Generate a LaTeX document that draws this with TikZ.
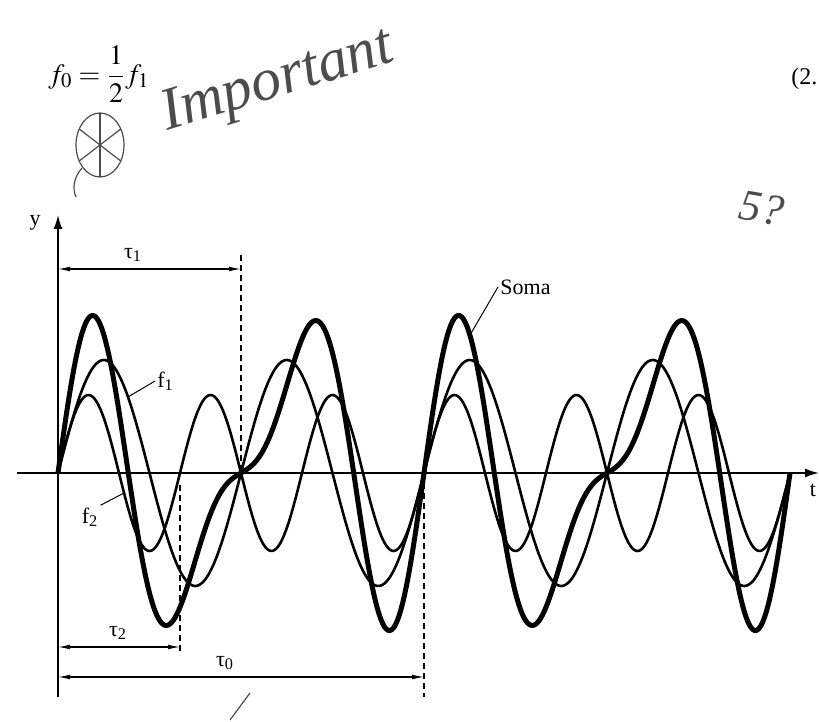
\documentclass[tikz,border=0pt]{standalone}
\usepackage{mathptmx}
\usepackage{fontspec}
\setmainfont{Liberation Serif}
\usetikzlibrary{arrows.meta, positioning}

\begin{document}
\begin{tikzpicture}[
    x=0.5pt, y=0.5pt,
    lbl/.style={font=\fontsize{11}{13}\selectfont, inner sep=1pt},
    axis/.style={line width=0.85pt, -{Latex[length=7pt, width=4.5pt]}},
    dim/.style={line width=0.6pt, {Latex[length=6pt, width=2.4pt]}-{Latex[length=6pt, width=2.4pt]}},
    guide/.style={line width=0.6pt, dash pattern=on 3pt off 2pt},
    wave/.style={line width=1.3pt, line join=round},
    soma/.style={line width=2.5pt, line join=round},
    leader/.style={line width=0.5pt},
    pen/.style={black!70, line width=0.6pt}
]
    \useasboundingbox (-58,-249) rectangle (761,473);

    % formula and handwritten notes
    \node[anchor=west, inner sep=0pt, font=\fontsize{14}{16}\selectfont] (eqn) at (-10,399)
        {$\displaystyle f_0 = \frac{1}{2} f_1$};
    \node[anchor=base west, inner sep=0pt, font=\fontsize{12}{14}\selectfont] (eqnum) at (733,388) {(2.};
    \node[pen, rotate=17, font=\fontsize{30}{32}\itshape] (note) at (220,390) {Important};
    \draw[pen] (42,328) ellipse [x radius=24, y radius=32];
    \foreach \a in {30,90,150,210,270,330}
        \draw[pen] (42,328) -- ++(\a:24 and 32);
    \draw[pen] (24,305) .. controls (16,296) and (14,285) .. (18,276);
    \node[pen, rotate=-10, font=\fontsize{22}{24}\itshape] (scrib) at (704,265) {5?};
    \coordinate (mark1) at (172,-247);
    \coordinate (mark2) at (192,-220);
    \draw[pen] (mark1) -- (mark2);

    % axes
    \coordinate (xstart) at (-41,0);
    \coordinate (xend) at (761,0);
    \coordinate (ybot) at (0,-224);
    \coordinate (ytop) at (0,258);
    \draw[axis] (xstart) -- (xend);
    \draw[axis] (ybot) -- (ytop);
    \node[lbl] (ylbl) at (-23,250) {y};
    \node[lbl] (tlbl) at (755,-17) {t};

    % the two tones and their sum (period of f1 = 183)
    \draw[wave] plot[domain=0:732, samples=400] (\x, {113*sin(1.96721*\x)});
    \draw[wave] plot[domain=0:732, samples=400] (\x, {78*sin(2.95082*\x)});
    \draw[soma] plot[domain=0:732, samples=400]
        (\x, {113*sin(1.96721*\x) + 78*sin(2.95082*\x) - 42*sin(0.98361*\x)});

    % periods
    \coordinate (g1top) at (183,218);
    \coordinate (g1bot) at (183,0);
    \coordinate (g2top) at (122,-12);
    \coordinate (g2bot) at (122,-182);
    \coordinate (g0top) at (366,-10);
    \coordinate (g0bot) at (366,-224);
    \draw[guide] (g1top) -- (g1bot);
    \draw[guide] (g2top) -- (g2bot);
    \draw[guide] (g0top) -- (g0bot);

    \coordinate (d1a) at (0,204);
    \coordinate (d1b) at (183,204);
    \coordinate (d2a) at (0,-174);
    \coordinate (d2b) at (122,-174);
    \coordinate (d0a) at (0,-204);
    \coordinate (d0b) at (366,-204);
    \draw[dim] (d1a) -- (d1b);
    \draw[dim] (d2a) -- (d2b);
    \draw[dim] (d0a) -- (d0b);
    \node[lbl] (tau1) at (75,218) {τ\textsubscript{1}};
    \node[lbl] (tau2) at (60,-160) {τ\textsubscript{2}};
    \node[lbl] (tau0) at (167,-190) {τ\textsubscript{0}};

    % curve labels
    \coordinate (f1pt) at (70,76);
    \node[lbl, anchor=west] (f1lbl) at (97,92) {f\textsubscript{1}};
    \draw[leader] (f1pt) -- (f1lbl.west);
    \coordinate (f2pt) at (66,-20);
    \node[lbl] (f2lbl) at (32,-44) {f\textsubscript{2}};
    \draw[leader] (f2pt) -- (f2lbl.north east);
    \coordinate (somapt) at (412,138);
    \node[lbl, anchor=west] (somalbl) at (440,186) {Soma};
    \draw[leader] (somapt) -- (somalbl.west);
\end{tikzpicture}
\end{document}
